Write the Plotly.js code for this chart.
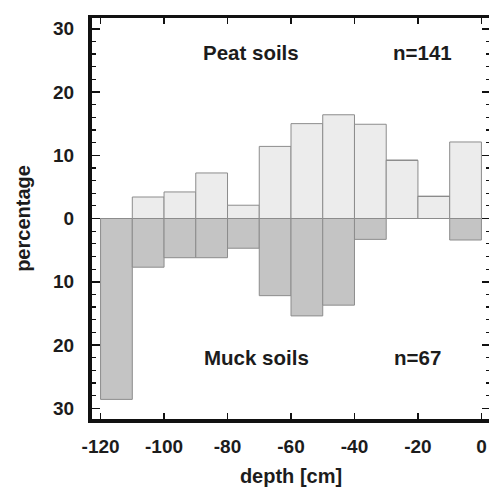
<!DOCTYPE html>
<html>
<head>
<meta charset="utf-8">
<script src="https://cdn.plot.ly/plotly-3.0.1.min.js"></script>
<style>
html,body{margin:0;padding:0;overflow:hidden;background:#fff;}
#chart{width:493px;height:487px;}
</style>
</head>
<body>
<div id="chart"></div>
<script>
// depth bin centres [cm]
const depthBins = [-115, -105, -95, -85, -75, -65, -55, -45, -35, -25, -15, -5];
// percentage per bin
const peatPercent = [0, 3.4, 4.2, 7.2, 2.1, 11.4, 15.0, 16.4, 14.9, 9.2, 3.5, 12.1];
const muckPercent = [28.6, 7.7, 6.2, 6.2, 4.7, 12.2, 15.4, 13.7, 3.3, 0, 0, 3.4];
const yTickVals = [-30, -20, -10, 0, 10, 20, 30];
const yTickText = ['30', '20', '10', '0', '10', '20', '30'];
const xTickVals = [-120, -100, -80, -60, -40, -20, 0];
const xTickText = ['-120', '-100', '-80', '-60', '-40', '-20', '0'];

const FONT = 'Liberation Sans, Arial, sans-serif';
const INK = '#1c1c1c';

const peat = {
  type: 'bar', x: depthBins, y: peatPercent, width: 10,
  marker: {color: '#ececec', line: {color: '#8c8c8c', width: 1}},
  hoverinfo: 'skip', showlegend: false
};
const muck = {
  type: 'bar', x: depthBins, y: muckPercent.map(v => -v), width: 10,
  marker: {color: '#c4c4c4', line: {color: '#8c8c8c', width: 1}},
  hoverinfo: 'skip', showlegend: false
};

const layout = {
  width: 493, height: 487,
  margin: {l: 92, r: 3, t: 18, b: 68},
  paper_bgcolor: '#fff', plot_bgcolor: '#fff',
  barmode: 'relative', bargap: 0,
  font: {family: FONT, color: INK},
  xaxis: {
    range: [-122.7, 2.7], tickmode: 'array', tickvals: xTickVals, ticktext: xTickText,
    ticks: 'inside', ticklen: 6, tickwidth: 1.5, tickcolor: '#111',
    showline: true, linewidth: 3.5, linecolor: '#111', mirror: 'allticks',
    showgrid: false, zeroline: false,
    tickfont: {family: FONT, size: 19, color: INK, weight: 'bold'},
    ticklabelstandoff: 8,
    title: {text: 'depth [cm]', font: {family: FONT, size: 20, color: INK, weight: 'bold'}, standoff: 16},
    automargin: false
  },
  yaxis: {
    range: [-31.7, 31.7], tickmode: 'array', tickvals: yTickVals, ticktext: yTickText,
    ticks: 'inside', ticklen: 8, tickwidth: 1.5, tickcolor: '#111',
    minor: {dtick: 2, tick0: 0, ticks: 'inside', ticklen: 4, tickwidth: 1.2, tickcolor: '#111', showgrid: false},
    showline: true, linewidth: 4, linecolor: '#111', mirror: 'allticks',
    showgrid: false, zeroline: false,
    tickfont: {family: FONT, size: 19, color: INK, weight: 'bold'},
    ticklabelstandoff: 10,
    title: {text: 'percentage', font: {family: FONT, size: 20, color: INK, weight: 'bold'}, standoff: 18},
    automargin: false
  },
  annotations: [
    {x: -72.5, y: 26.2, xref: 'x', yref: 'y', text: 'Peat soils', showarrow: false,
     font: {family: FONT, size: 20.5, color: INK, weight: 'bold'}},
    {x: -18.7, y: 26.2, xref: 'x', yref: 'y', text: 'n=141', showarrow: false,
     font: {family: FONT, size: 20.5, color: INK, weight: 'bold'}},
    {x: -71, y: -22.0, xref: 'x', yref: 'y', text: 'Muck soils', showarrow: false,
     font: {family: FONT, size: 20.5, color: INK, weight: 'bold'}},
    {x: -20.2, y: -22.0, xref: 'x', yref: 'y', text: 'n=67', showarrow: false,
     font: {family: FONT, size: 20.5, color: INK, weight: 'bold'}}
  ]
};

Plotly.newPlot('chart', [peat, muck], layout, {displayModeBar: false, staticPlot: true});
</script>
</body>
</html>
